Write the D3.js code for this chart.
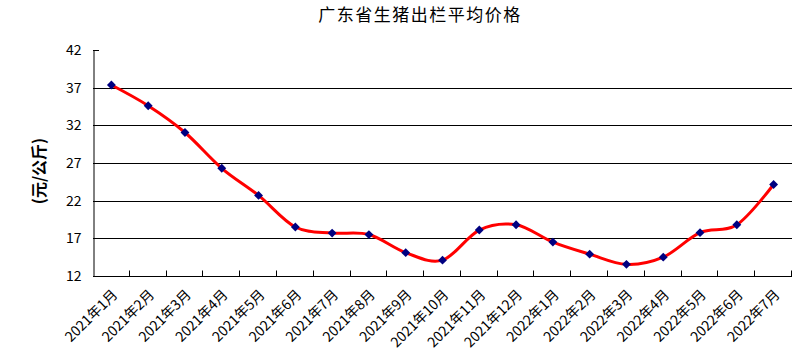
<!DOCTYPE html>
<html><head><meta charset="utf-8">
<script src="https://cdn.jsdelivr.net/npm/d3@7"></script>
<style>body{margin:0;background:#fff}svg{display:block}</style>
</head><body>
<svg id="c" width="796" height="360"></svg>
<script>
const title = "广东省生猪出栏平均价格";
const yTitle = "(元/公斤)";
const categories = ["2021年1月","2021年2月","2021年3月","2021年4月","2021年5月","2021年6月","2021年7月","2021年8月","2021年9月","2021年10月","2021年11月","2021年12月","2022年1月","2022年2月","2022年3月","2022年4月","2022年5月","2022年6月","2022年7月"];
const prices = [37.35,34.6,31.05,26.3,22.7,18.5,17.7,17.5,15.1,14.1,18.1,18.8,16.5,14.9,13.55,14.5,17.75,18.8,24.15];
const yTicks = [12,17,22,27,32,37,42];

const svg = d3.select("#c");
const font = "'Noto Sans CJK SC', sans-serif";
const L = 93, R = 792, T = 50, B = 276;
const x = d3.scaleBand().domain(categories).range([L, R]);
const y = d3.scaleLinear().domain([12, 42]).range([B, T]);

svg.append("text").attr("x", 420).attr("y", 21).attr("text-anchor", "middle")
  .attr("font-family", font).attr("font-size", 17).attr("letter-spacing", 1.5).text(title);

// gridlines
svg.append("g").selectAll("line").data(yTicks.filter(v => v > 12 && v < 42)).join("line")
  .attr("x1", L).attr("x2", R).attr("y1", d => Math.round(y(d)) + 0.5).attr("y2", d => Math.round(y(d)) + 0.5)
  .attr("stroke", "#000").attr("stroke-width", 1);

// y axis
const ya = svg.append("g").attr("transform", `translate(${L + 0.5},0)`)
  .call(d3.axisLeft(y).tickValues(yTicks).tickSize(0).tickPadding(12));
ya.select(".domain").attr("stroke", "#000");
ya.selectAll("text").attr("font-family", font).attr("font-size", 14).attr("fill", "#000");
svg.append("line").attr("x1", L).attr("x2", L + 6).attr("y1", T + 0.5).attr("y2", T + 0.5).attr("stroke", "#000");

// x axis
const xa = svg.append("g").attr("transform", `translate(0,${B + 0.5})`);
xa.append("line").attr("x1", L).attr("x2", R).attr("stroke", "#000");
const bounds = categories.map(c => x(c)).concat([R]);
xa.selectAll("line.t").data(bounds.slice(1)).join("line").attr("class", "t")
  .attr("x1", d => Math.round(d) - 0.5).attr("x2", d => Math.round(d) - 0.5).attr("y1", 0).attr("y2", -6).attr("stroke", "#000");
xa.selectAll("text").data(categories).join("text")
  .attr("transform", d => `translate(${x(d) + x.bandwidth() / 2 + 7},${19}) rotate(-45)`)
  .attr("text-anchor", "end").attr("font-family", font).attr("font-size", 14).attr("fill", "#000").text(d => d);

svg.append("text").attr("transform", `translate(45,${(T + B) / 2 + 8}) rotate(-90)`)
  .attr("text-anchor", "middle").attr("font-family", font).attr("font-size", 16).attr("font-weight", "bold").text(yTitle);

const cx = d => x(d) + x.bandwidth() / 2;
const line = d3.line().x((d, i) => cx(categories[i])).y(d => y(d)).curve(d3.curveCardinal.tension(0));
svg.append("path").datum(prices).attr("d", line).attr("fill", "none").attr("stroke", "#ff0000").attr("stroke-width", 3);

svg.append("g").selectAll("path").data(prices).join("path")
  .attr("d", d3.symbol().type(d3.symbolDiamond2).size(50))
  .attr("transform", (d, i) => `translate(${cx(categories[i])},${y(d)})`)
  .attr("fill", "#000080");
</script>
</body></html>
